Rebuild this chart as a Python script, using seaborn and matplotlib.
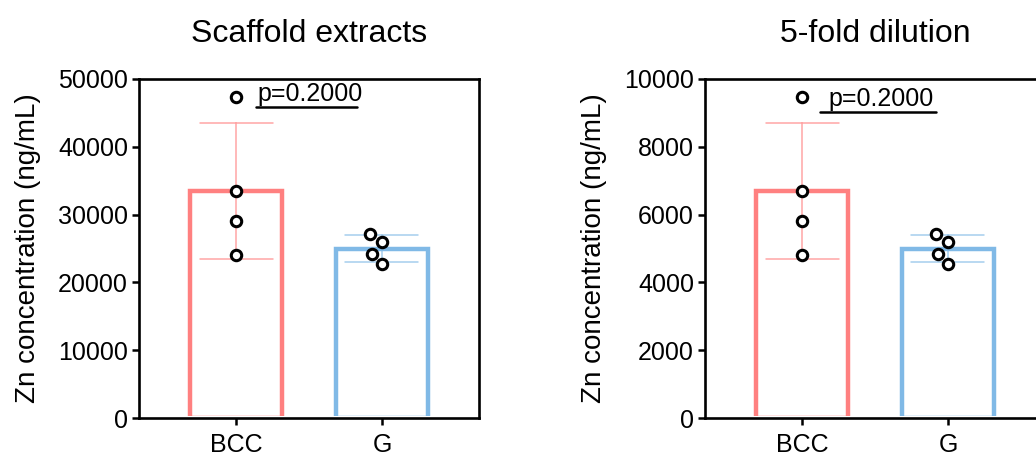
import pandas as pd
import matplotlib.pyplot as plt
import seaborn as sns
from matplotlib.transforms import Bbox, TransformedBbox

# values (ng/mL)
groups = ['BCC', 'G']
scaffold_bcc = [47300, 33530, 29060, 24040]
scaffold_g = [26000, 27140, 24140, 22710]
dilution_bcc = [9460, 6705, 5810, 4810]
dilution_g = [5200, 5430, 4830, 4540]
titles = ['Scaffold extracts', '5-fold dilution']
p_labels = ['p=0.2000', 'p=0.2000']
y_max = [50000, 10000]
y_step = [10000, 2000]

palette = {'BCC': '#FF8080', 'G': '#80B9E6'}

sns.set_style('ticks')
plt.rcParams['font.family'] = ['Liberation Sans', 'DejaVu Sans']
plt.rcParams['text.color'] = 'black'
plt.rcParams['axes.labelcolor'] = 'black'


def make_df(bcc, g):
    return pd.DataFrame({'group': ['BCC'] * len(bcc) + ['G'] * len(g),
                         'value': bcc + g})


def draw_panel(ax, df, title, p_label, ymax, ystep, bracket):
    sns.barplot(data=df, x='group', y='value', hue='group', order=groups, palette=palette,
                fill=False, errorbar='sd', capsize=0.5, linewidth=3.2, width=0.63,
                err_kws={'linewidth': 1.1, 'alpha': 0.7}, legend=False, ax=ax)
    # open bars stop at the axis line, no bottom edge
    clip = TransformedBbox(Bbox([[0, 0.0045], [1, 1]]), ax.transAxes)
    for patch in ax.patches:
        patch.set_clip_box(clip)

    sns.swarmplot(data=df, x='group', y='value', order=groups, color='white',
                  edgecolor='black', linewidth=2.2, size=7.5, ax=ax, zorder=5)

    ax.set_xlim(-0.665, 1.665)
    ax.set_ylim(0, ymax)
    ax.set_yticks(range(0, ymax + 1, ystep))
    for side in ['top', 'right', 'left', 'bottom']:
        ax.spines[side].set_linewidth(1.9)
        ax.spines[side].set_color('black')
        ax.spines[side].set_zorder(6)
    ax.tick_params(width=1.8, length=5, labelsize=18, colors='black', pad=3)
    ax.tick_params(axis='x', pad=6)
    ax.set_xlabel('')
    ax.set_ylabel('Zn concentration (ng/mL)', fontsize=20, labelpad=12)
    ax.set_title(title, fontsize=23, pad=27)

    # significance bar
    x0, x1, yfrac = bracket
    ax.plot([x0, x1], [yfrac * ymax] * 2, color='black', linewidth=1.8, clip_on=False)
    ax.text((x0 + x1) / 2 + 0.02, yfrac * ymax * 1.004, p_label, ha='center', va='bottom',
            fontsize=18)


fig = plt.figure(figsize=(10.36, 4.63), dpi=100)
ax1 = fig.add_axes([139 / 1036, 45 / 463, 340 / 1036, 339 / 463])
ax2 = fig.add_axes([705 / 1036, 45 / 463, 340 / 1036, 339 / 463])

draw_panel(ax1, make_df(scaffold_bcc, scaffold_g), titles[0], p_labels[0],
           y_max[0], y_step[0], (0.14, 0.83, 0.918))
draw_panel(ax2, make_df(dilution_bcc, dilution_g), titles[1], p_labels[1],
           y_max[1], y_step[1], (0.12, 0.92, 0.902))

fig.savefig('out.png', dpi=100)
